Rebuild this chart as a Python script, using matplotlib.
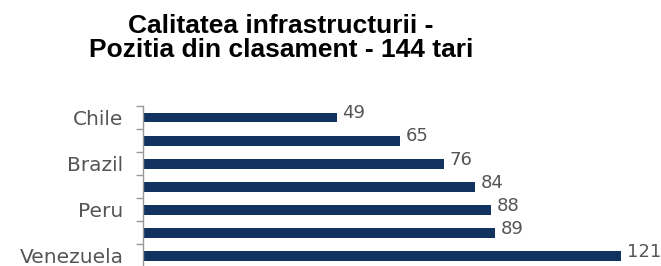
import matplotlib.pyplot as plt
from matplotlib.ticker import FixedLocator

# data
countries = ['Chile', '', 'Brazil', '', 'Peru', '', 'Venezuela']
rank = [49, 65, 76, 84, 88, 89, 121]

title = 'Calitatea infrastructurii -\nPozitia din clasament - 144 tari'
bar_color = '#12325f'
text_gray = '#555555'

fig = plt.figure(figsize=(6.61, 2.66), dpi=100)
ax = fig.add_axes([143 / 661, -1.5 / 266, 518 / 661, 161.5 / 266])

pos = list(range(len(rank)))
ax.barh(pos, rank, height=0.43, color=bar_color)
ax.set_ylim(len(rank) - 0.5, -0.5)
ax.set_xlim(0, 131)

# value labels to the right of each bar
for p, v in zip(pos, rank):
    ax.annotate(str(v), (v, p), xytext=(4, 3), textcoords='offset points',
                ha='left', va='center', fontsize=13, color=text_gray)

ax.set_yticks(pos)
ax.set_yticklabels(countries, fontsize=14.5, color=text_gray)
ax.tick_params(axis='y', which='major', length=0, pad=14)
ax.yaxis.set_minor_locator(FixedLocator([p + 0.5 for p in range(-1, len(rank))]))
ax.tick_params(axis='y', which='minor', length=5, width=1, color='#999999')

ax.set_xticks([])
for s in ['top', 'right', 'bottom']:
    ax.spines[s].set_visible(False)
ax.spines['left'].set_color('#999999')
ax.spines['left'].set_linewidth(1)

fig.text(281 / 661, 1 - 38 / 266, title, ha='center', va='center',
         fontsize=19, fontweight='bold', family='Liberation Sans',
         linespacing=1.05)

fig.savefig('out.png', dpi=100)
